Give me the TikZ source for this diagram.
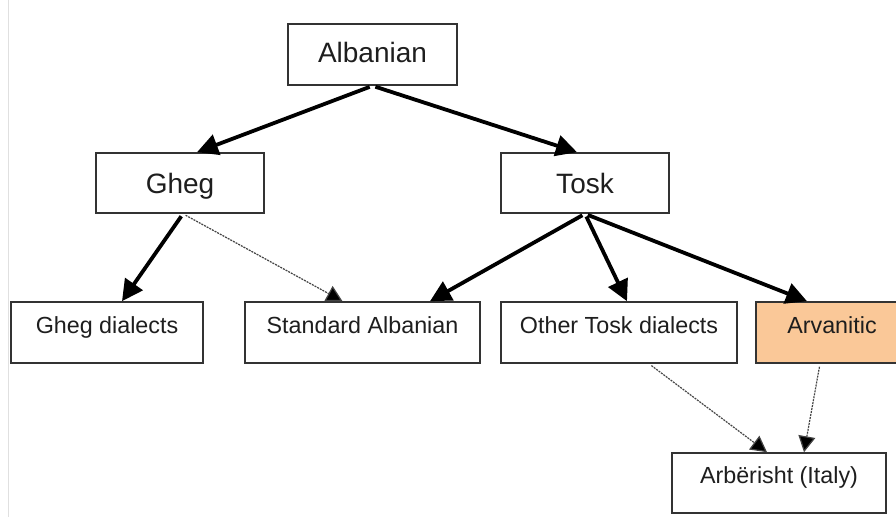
\documentclass[tikz,border=0pt]{standalone}
\usepackage{fontspec}
\setmainfont{Liberation Sans}
\usetikzlibrary{arrows.meta,calc}
\definecolor{boxline}{HTML}{333333}
\definecolor{arvfill}{HTML}{FAC898}
\definecolor{txt}{HTML}{1E1E1E}
\definecolor{dotline}{HTML}{444444}
\tikzset{
  box/.style={draw=boxline, line width=1.6pt, fill=white, inner xsep=0pt, inner ysep=0pt,
    text=txt, align=center, anchor=center},
  bigbox/.style={box, font=\fontsize{28}{30}\selectfont},
  smallbox/.style={box, font=\fontsize{23.3}{25}\selectfont},
  strong/.style={line width=3.8pt, black, -{Triangle[length=21pt,width=21pt]}, shorten <=3pt},
  weak/.style={line width=1.2pt, dotline, dash pattern=on 2pt off 1pt,
    -{Triangle[length=16pt,width=17pt,fill=black]}, shorten <=3pt}
}
\begin{document}
\begin{tikzpicture}[x=1pt,y=-1pt]
\useasboundingbox (0,0) rectangle (896,517);
\clip (0,0) rectangle (896,517);
\fill[white] (0,0) rectangle (896,517);
\draw[line width=1pt, black!12] (8,0) -- (8,517);

\node[bigbox, minimum width=169pt, text height=38pt, text depth=23pt] (alb) at (372.5,54.5) {Albanian};
\node[bigbox, minimum width=168pt, text height=40pt, text depth=20pt] (gheg) at (180,183) {Gheg};
\node[bigbox, minimum width=168pt, text height=40pt, text depth=20pt] (tosk) at (585,183) {Tosk};

\node[smallbox, minimum width=192pt, text height=31pt, text depth=30pt] (ghegd) at (107,332.5) {Gheg dialects};
\node[smallbox, minimum width=235pt, text height=31pt, text depth=30pt] (std) at (362.5,332.5) {Standard Albanian};
\node[smallbox, minimum width=236pt, text height=31pt, text depth=30pt] (other) at (619,332.5) {Other Tosk dialects};
\node[smallbox, fill=arvfill, minimum width=152pt, text height=31pt, text depth=30pt] (arv) at (832,332.5) {Arvanitic};
\node[smallbox, minimum width=214pt, text height=30pt, text depth=30pt] (arb) at (779,483) {Arbërisht (Italy)};

\draw[strong] (alb.south) -- ([xshift=17pt]gheg.north);
\draw[strong] (alb.south) -- ([xshift=-8pt]tosk.north);

\draw[strong] ([xshift=3pt]gheg.south) -- ([xshift=15pt]ghegd.north);
\draw[weak] ([xshift=3pt]gheg.south) -- ([xshift=-20pt]std.north);

\draw[strong] (tosk.south) -- ([xshift=67.5pt]std.north);
\draw[strong] (tosk.south) -- ([xshift=8pt]other.north);
\draw[strong] (tosk.south) -- ([xshift=-25pt]arv.north);

\draw[weak] ([xshift=30pt]other.south) -- ([xshift=-12pt]arb.north);
\draw[weak] ([xshift=-12pt]arv.south) -- ([xshift=25pt]arb.north);
\end{tikzpicture}
\end{document}
